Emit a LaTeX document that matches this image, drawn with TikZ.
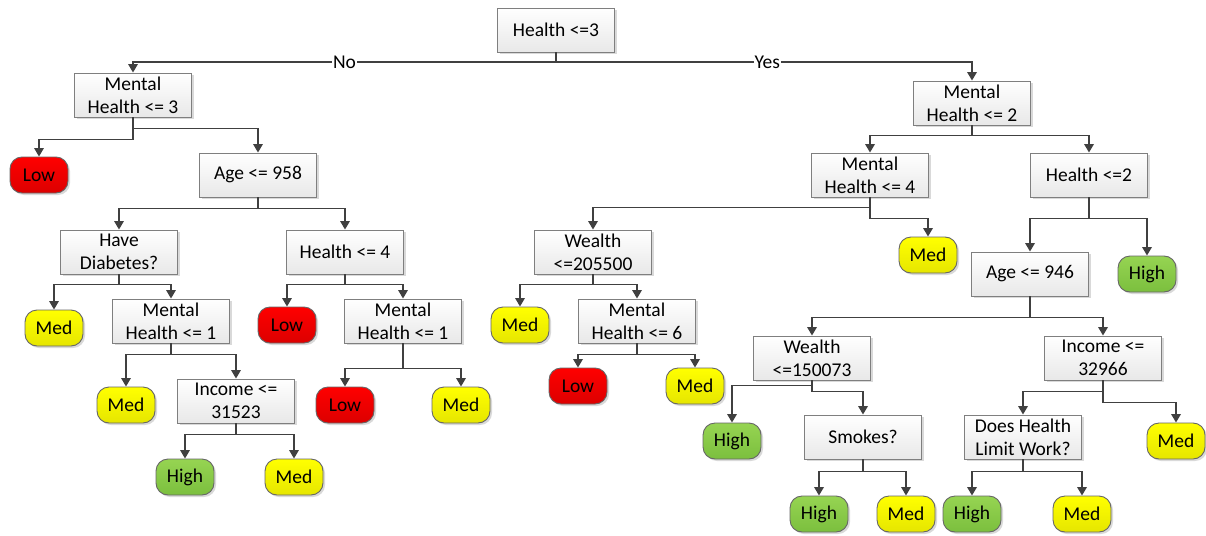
\documentclass[tikz,border=0pt]{standalone}
\usepackage{fontspec}
\setmainfont{Carlito}
\usetikzlibrary{arrows.meta,shadows}
\definecolor{conn}{HTML}{404040}
\definecolor{boxline}{HTML}{7F7F7F}
\definecolor{redtop}{HTML}{FF0000}
\definecolor{redbot}{HTML}{DC0000}
\definecolor{yeltop}{HTML}{FFFF00}
\definecolor{yelbot}{HTML}{E6E600}
\definecolor{grntop}{HTML}{96D452}
\definecolor{grnbot}{HTML}{7BBF3E}
\tikzset{
  every node/.style={font=\fontsize{19.5}{23}\selectfont},
  qbox/.style={draw=boxline, line width=0.9pt, top color=white, bottom color=black!9,
    minimum width=117pt, minimum height=44pt, align=center, inner sep=1pt,
    drop shadow={shadow xshift=2pt, shadow yshift=-2pt, fill=black!25, opacity=0.6}},
  leaf/.style={draw=black!60, line width=0.9pt, rounded corners=12pt,
    minimum width=58pt, minimum height=36pt, inner sep=1pt,
    drop shadow={shadow xshift=2pt, shadow yshift=-2pt, fill=black!25, opacity=0.6}},
  lowleaf/.style={leaf, top color=redtop, bottom color=redbot},
  medleaf/.style={leaf, top color=yeltop, bottom color=yelbot},
  highleaf/.style={leaf, top color=grntop, bottom color=grnbot},
  arr/.style={draw=conn, line width=1.7pt, -{Triangle[width=9.5pt,length=8.5pt]}},
  ln/.style={draw=conn, line width=1.7pt},
  lbl/.style={fill=white, inner sep=1pt, text=black}
}
\begin{document}
\begin{tikzpicture}[x=1pt,y=-1pt]
\useasboundingbox (0,0) rectangle (1206,535);
% decision boxes
\node[qbox] (root) at (556,30) {Health <=3};
\node[qbox] (mh3) at (133,95) {Mental\\Health <= 3};
\node[qbox] (age958) at (258,175) {Age <= 958};
\node[qbox] (diab) at (119,252) {Have\\Diabetes?};
\node[qbox] (h4) at (345,252) {Health <= 4};
\node[qbox] (mh1a) at (171,321) {Mental\\Health <= 1};
\node[qbox] (inc315) at (236,401) {Income <=\\31523};
\node[qbox] (mh1b) at (403,321) {Mental\\Health <= 1};
\node[qbox] (mh2) at (972,103) {Mental\\Health <= 2};
\node[qbox] (mh4) at (870,175) {Mental\\Health <= 4};
\node[qbox] (h2) at (1089,175) {Health <=2};
\node[qbox] (w205) at (593,252) {Wealth\\<=205500};
\node[qbox] (mh6) at (637,321) {Mental\\Health <= 6};
\node[qbox] (age946) at (1030,274) {Age <= 946};
\node[qbox] (w150) at (812,358) {Wealth\\<=150073};
\node[qbox] (inc329) at (1103,358) {Income <=\\32966};
\node[qbox] (smokes) at (863,437) {Smokes?};
\node[qbox] (does) at (1023,437) {Does Health\\Limit Work?};
% leaves
\node[lowleaf] (low1) at (39,175) {Low};
\node[medleaf] (med1) at (54,328) {Med};
\node[medleaf] (med2) at (126,405) {Med};
\node[highleaf] (high1) at (185,477) {High};
\node[medleaf] (med3) at (294,477) {Med};
\node[lowleaf] (low2) at (287,325) {Low};
\node[lowleaf] (low3) at (345,405) {Low};
\node[medleaf] (med4) at (461,405) {Med};
\node[medleaf] (med5) at (520,325) {Med};
\node[lowleaf] (low4) at (578,386) {Low};
\node[medleaf] (med6) at (695,386) {Med};
\node[medleaf] (med7) at (928,255) {Med};
\node[highleaf] (high2) at (1147,274) {High};
\node[highleaf] (high3) at (732,441) {High};
\node[highleaf] (high4) at (819,514) {High};
\node[medleaf] (med8) at (906,514) {Med};
\node[highleaf] (high5) at (972,514) {High};
\node[medleaf] (med9) at (1082,514) {Med};
\node[medleaf] (med10) at (1176,441) {Med};
% connectors
\coordinate (rj) at (556,62);
\draw[ln] (root.south) -- (rj);
\draw[arr] (rj) -| node[lbl, pos=0.25] {No} (mh3.north);
\draw[arr] (rj) -| node[lbl, pos=0.254] {Yes} (mh2.north);
\draw[arr] (mh3.south) -- ++(0,22) -| (low1.north);
\draw[arr] (mh3.south) -- ++(0,11) -| (age958.north);
\draw[arr] (age958.south) -- ++(0,11) -| (diab.north);
\draw[arr] (age958.south) -- ++(0,11) -| (h4.north);
\draw[arr] (diab.south) -- ++(0,10) -| (med1.north);
\draw[arr] (diab.south) -- ++(0,10) -| (mh1a.north);
\draw[arr] (mh1a.south) -- ++(0,11) -| (med2.north);
\draw[arr] (mh1a.south) -- ++(0,11) -| (inc315.north);
\draw[arr] (inc315.south) -- ++(0,11) -| (high1.north);
\draw[arr] (inc315.south) -- ++(0,11) -| (med3.north);
\draw[arr] (h4.south) -- ++(0,10) -| (low2.north);
\draw[arr] (h4.south) -- ++(0,10) -| (mh1b.north);
\draw[arr] (mh1b.south) -- ++(0,25) -| (low3.north);
\draw[arr] (mh1b.south) -- ++(0,25) -| (med4.north);
\draw[arr] (mh2.south) -- ++(0,10) -| (mh4.north);
\draw[arr] (mh2.south) -- ++(0,10) -| (h2.north);
\draw[arr] (mh4.south) -- ++(0,10) -| (w205.north);
\draw[arr] (mh4.south) -- ++(0,21) -| (med7.north);
\draw[arr] (h2.south) -- ++(0,21) -| (age946.north);
\draw[arr] (h2.south) -- ++(0,21) -| (high2.north);
\draw[arr] (w205.south) -- ++(0,10) -| (med5.north);
\draw[arr] (w205.south) -- ++(0,10) -| (mh6.north);
\draw[arr] (mh6.south) -- ++(0,11) -| (low4.north);
\draw[arr] (mh6.south) -- ++(0,11) -| (med6.north);
\draw[arr] (age946.south) -- ++(0,21) -| (w150.north);
\draw[arr] (age946.south) -- ++(0,21) -| (inc329.north);
\draw[arr] (w150.south) -- ++(0,5) -| (high3.north);
\draw[arr] (w150.south) -- ++(0,11) -| (smokes.north);
\draw[arr] (smokes.south) -- ++(0,12) -| (high4.north);
\draw[arr] (smokes.south) -- ++(0,12) -| (med8.north);
\draw[arr] (inc329.south) -- ++(0,11) -| (does.north);
\draw[arr] (inc329.south) -- ++(0,22) -| (med10.north);
\draw[arr] (does.south) -- ++(0,12) -| (high5.north);
\draw[arr] (does.south) -- ++(0,12) -| (med9.north);
\end{tikzpicture}
\end{document}
